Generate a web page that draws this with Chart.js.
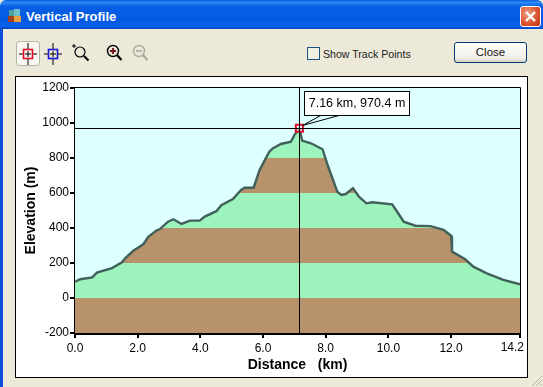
<!DOCTYPE html>
<html>
<head>
<meta charset="utf-8">
<title>Vertical Profile</title>
<script src="https://cdn.jsdelivr.net/npm/chart.js@4"></script>
<style>
    html, body { margin:0; padding:0; background:#ECE9D8; }
    #win { position:relative; width:543px; height:387px; overflow:hidden; background:#ECE9D8; font-family:"Liberation Sans", Arial, sans-serif; }
    #titlebar { position:absolute; left:0; top:0; width:543px; height:29px; border-radius:6px 6px 0 0;
        background:linear-gradient(to bottom, #0A5BDC 0%, #2E8BF5 8%, #0860E6 22%, #0458E0 70%, #0A62EC 90%, #0043C4 100%); }
    #leftedge { position:absolute; left:0; top:29px; width:3px; height:358px; background:#0A50DC; }
    #titletext { position:absolute; left:26px; top:9px; color:#fff; font-size:13px; font-weight:bold; font-family:"Liberation Sans", Arial, sans-serif; }
    #appicon { position:absolute; left:8px; top:9px; }
    #closex { position:absolute; left:520px; top:6px; width:21px; height:21px; box-sizing:border-box; border:1px solid #fff; border-radius:3px;
        background:radial-gradient(circle at 35% 35%, #F0A080, #D8502C 60%, #B83010); }
    #toolsel { position:absolute; left:16px; top:41px; width:24px; height:25px; box-sizing:border-box; background:#F6F5EE; border:1px solid #B8B6A8; border-radius:3px; }
    .tool { position:absolute; }
    #check { position:absolute; left:307px; top:47px; width:13px; height:13px; box-sizing:border-box; border:1px solid #1C5180; background:#F1EFE2; }
    #checklabel { position:absolute; left:323px; top:48px; font-size:10.6px; color:#222; }
    #closebtn { position:absolute; left:454px; top:42px; width:73px; height:21px; box-sizing:border-box; border:1px solid #003C74; border-radius:3px;
        background:linear-gradient(to bottom, #FFFFFF, #F0EFE6 80%, #D6D0C5); font-size:11.5px; line-height:19px; text-align:center; color:#111; }
    #panel { position:absolute; left:15px; top:76px; width:513px; height:302px; box-sizing:border-box; border:1px solid #000; background:#fff; }
    #chartBox { position:absolute; left:0; top:0; width:511px; height:300px; }
    #grip { position:absolute; left:530px; top:374px; }
</style>
</head>
<body>
<div id="win">
    <div id="titlebar"></div>
    <div id="leftedge"></div>
    <svg id="appicon" width="13" height="14"><rect x="1" y="1" width="5" height="6" fill="#4FA0A0"/><rect x="6" y="0" width="6" height="7" fill="#6FC0C8"/><rect x="0" y="7" width="6" height="6" fill="#A04020"/><rect x="6" y="7" width="7" height="6" fill="#E8A040"/></svg>
    <div id="titletext">Vertical Profile</div>
    <div id="closex"><svg width="19" height="19"><path d="M5 5 L14 14 M14 5 L5 14" stroke="#fff" stroke-width="2.4"/></svg></div>

    <div id="toolsel"></div>
    <svg class="tool" style="left:16px;top:41px" width="150" height="26">
        <g fill="none" stroke="#000" stroke-width="1">
            <path d="M12 2V8 M12 18V24 M3 13H8 M17 13H21"/><path d="M37 2V8 M37 18V24 M28 13H33 M42 13H46"/>
            <path d="M12 10V16 M9 13H15 M37 10V16 M34 13H40"/>
        </g>
        <rect x="7.5" y="8.5" width="9" height="9" fill="none" stroke="#E0102C" stroke-width="1.6"/>
        <rect x="32.5" y="8.5" width="9" height="9" fill="none" stroke="#1818D0" stroke-width="1.6"/>
        <g fill="none" stroke="#000">
            <path d="M56 5H60 M58 3V7"/>
            <circle cx="64" cy="11" r="5" stroke-width="1.2"/><path d="M68 15L72.5 19.5" stroke-width="2.2"/>
            <circle cx="97" cy="10" r="5.5" stroke-width="1.4"/><path d="M101 14L105.5 19" stroke-width="2.2"/>
            <path d="M94 10H100 M97 7V13" stroke="#701020" stroke-width="1.8"/>
        </g>
        <g fill="none" stroke="#A8A89C">
            <circle cx="123" cy="10" r="5.5" stroke-width="1.4"/><path d="M127 14L131.5 19" stroke-width="2.2"/>
            <path d="M120 10H126" stroke-width="1.6"/>
        </g>
    </svg>
    <div id="check"></div>
    <div id="checklabel">Show Track Points</div>
    <div id="closebtn">Close</div>

    <div id="panel"><div id="chartBox"><canvas id="chart-profile"></canvas></div></div>
    <svg id="grip" width="13" height="13"><path d="M12 2L2 12 M12 6L6 12 M12 10L10 12" stroke="#B8B4A0" stroke-width="1"/></svg>
</div>

<script>
    // Profile
    const distanceKm = [0, 0.17, 0.55, 0.7, 1.18, 1.5, 1.6, 1.86, 2.18, 2.34, 2.6, 2.71, 2.97, 3.14, 3.4, 3.67, 3.98, 4.14, 4.51, 4.67, 5.04, 5.3, 5.41, 5.7, 5.89, 6.2, 6.31, 6.57, 6.89, 7.0, 7.16, 7.25, 7.53, 7.9, 8.06, 8.37, 8.5, 8.64, 8.87, 9.06, 9.3, 9.49, 10.12, 10.28, 10.49, 10.86, 11.34, 11.76, 12.0, 12.03, 12.45, 12.71, 13.14, 13.67, 14.2];
    const elevationM = [93, 107, 118, 145, 171, 204, 227, 270, 307, 350, 385, 394, 436, 450, 423, 442, 442, 465, 496, 530, 566, 617, 630, 630, 731, 836, 855, 880, 893, 931, 970.4, 899, 884, 850, 760, 607, 589, 594, 627, 579, 541, 547, 535, 493, 436, 413, 411, 389, 356, 265, 221, 179, 141, 103, 78];

    const cursorDistance = 7.16;
    const cursorElevation = 970.4;
    const cursorLabel = '7.16 km, 970.4 m';

    const yTickValues = [-200, 0, 200, 400, 600, 800, 1000, 1200];
    const xTickValues = [0, 2, 4, 6, 8, 10, 12, 14.2];

    const bandEdges = [-200, 0, 200, 400, 600, 800, 1000];
    const bandColors = ['#B8926A', '#9CF3BC', '#B8926A', '#9CF3BC', '#B8926A', '#9CF3BC'];

    // hard stop gradient so the bands follow the profile outline exactly
    function bandGradient(context) {
        const { chart } = context;
        if (!chart.chartArea) return bandColors[1];
        const y = chart.scales.y;
        const top = y.getPixelForValue(bandEdges[bandEdges.length - 1]);
        const bottom = y.getPixelForValue(bandEdges[0]);
        const grad = chart.ctx.createLinearGradient(0, bottom, 0, top);
        bandColors.forEach((color, i) => {
            grad.addColorStop((bandEdges[i] - bandEdges[0]) / (bandEdges[bandEdges.length - 1] - bandEdges[0]), color);
            grad.addColorStop((bandEdges[i + 1] - bandEdges[0]) / (bandEdges[bandEdges.length - 1] - bandEdges[0]), color);
        });
        return grad;
    }

    // plot background and thin frame
    const plotFrame = {
        id: 'plotFrame',
        beforeDatasetsDraw(chart) {
            const { ctx, chartArea: a } = chart;
            ctx.save();
            ctx.fillStyle = '#DDFFFF';
            ctx.fillRect(a.left, a.top, a.width, a.height);
            ctx.restore();
        },
        afterDraw(chart) {
            const { ctx, chartArea: a } = chart;
            ctx.save();
            ctx.strokeStyle = '#000';
            ctx.lineWidth = 1;
            ctx.beginPath();
            ctx.moveTo(a.left, a.top - 0.5);
            ctx.lineTo(a.right + 0.5, a.top - 0.5);
            ctx.lineTo(a.right + 0.5, a.bottom);
            ctx.stroke();
            ctx.restore();
        }
    };

    // crosshair, callout and the shifted last x label
    const cursorCallout = {
        id: 'cursorCallout',
        afterDatasetsDraw(chart) {
            const { ctx, chartArea: a, scales } = chart;
            const px = Math.round(scales.x.getPixelForValue(cursorDistance)) + 0.5;
            const py = Math.round(scales.y.getPixelForValue(cursorElevation)) + 0.5;
            ctx.save();
            ctx.strokeStyle = '#000';
            ctx.lineWidth = 1;
            ctx.beginPath();
            ctx.moveTo(a.left, py); ctx.lineTo(a.right, py);
            ctx.moveTo(px, a.top); ctx.lineTo(px, a.bottom);
            ctx.moveTo(px + 3, py - 3); ctx.lineTo(px + 23, py - 14);
            ctx.moveTo(px + 3, py - 3); ctx.lineTo(px + 43, py - 14);
            ctx.stroke();

            ctx.fillStyle = '#fff';
            ctx.fillRect(px + 5, py - 37, 105, 24);
            ctx.strokeRect(px + 5, py - 37, 105, 24);
            ctx.fillStyle = '#000';
            ctx.font = '12.5px "Liberation Sans", Arial, sans-serif';
            ctx.textAlign = 'center';
            ctx.textBaseline = 'middle';
            ctx.fillText(cursorLabel, px + 57.5, py - 24.5);
            ctx.restore();
        },
        afterDraw(chart) {
            const { ctx, scales } = chart;
            const last = xTickValues[xTickValues.length - 1];
            ctx.save();
            ctx.fillStyle = '#000';
            ctx.font = '12px "Liberation Sans", Arial, sans-serif';
            ctx.textAlign = 'right';
            ctx.textBaseline = 'top';
            ctx.fillText(last.toFixed(1), scales.x.getPixelForValue(last) + 4, scales.x.top + 9);
            ctx.restore();
        }
    };

    new Chart(document.getElementById('chart-profile').getContext('2d'), {
        type: 'line',
        data: {
            datasets: [{
                label: 'Marker',
                data: [{ x: cursorDistance, y: cursorElevation }],
                showLine: false,
                pointStyle: 'rect',
                pointRadius: 5,
                pointBorderColor: '#E0102C',
                pointBorderWidth: 2,
                pointBackgroundColor: 'rgba(255,255,255,0.6)',
                order: 0
            }, {
                label: 'Elevation',
                data: distanceKm.map((d, i) => ({ x: d, y: elevationM[i] })),
                borderColor: '#41615A',
                borderWidth: 2.4,
                pointRadius: 0,
                tension: 0,
                fill: 'start',
                backgroundColor: bandGradient,
                order: 1
            }]
        },
        options: {
            responsive: true,
            maintainAspectRatio: false,
            animation: false,
            layout: { padding: { top: 11, right: 5, bottom: 3, left: 0 } },
            plugins: {
                legend: { display: false },
                tooltip: { enabled: false }
            },
            scales: {
                x: {
                    type: 'linear',
                    min: 0,
                    max: 14.2,
                    afterBuildTicks: axis => { axis.ticks = xTickValues.map(v => ({ value: v })); },
                    // last label is drawn by the plugin, so it should not reserve room
                    afterFit: axis => { axis.height = 41; axis.paddingRight = 0; },
                    grid: { drawOnChartArea: false, color: '#000', lineWidth: 2, tickLength: 5 },
                    border: { color: '#000', width: 3 },
                    ticks: {
                        color: '#000',
                        font: { size: 12, family: '"Liberation Sans", Arial, sans-serif' },
                        padding: 3,
                        maxRotation: 0,
                        autoSkip: false,
                        callback: v => v === xTickValues[xTickValues.length - 1] ? '' : v.toFixed(1)
                    },
                    title: {
                        display: true,
                        text: 'Distance   (km)',
                        color: '#000',
                        font: { size: 14, weight: 'bold', family: '"Liberation Sans", Arial, sans-serif' },
                        padding: 0
                    }
                },
                y: {
                    min: -200,
                    max: 1200,
                    afterBuildTicks: axis => { axis.ticks = yTickValues.map(v => ({ value: v })); },
                    afterFit: axis => { axis.width = 59; },
                    grid: { drawOnChartArea: false, color: '#000', lineWidth: 2, tickLength: 5 },
                    border: { color: '#000', width: 3 },
                    ticks: {
                        color: '#000',
                        font: { size: 12, family: '"Liberation Sans", Arial, sans-serif' },
                        padding: 1,
                        autoSkip: false,
                        callback: v => String(v)
                    },
                    title: {
                        display: true,
                        text: 'Elevation (m)',
                        color: '#000',
                        font: { size: 14, weight: 'bold', family: '"Liberation Sans", Arial, sans-serif' },
                        padding: { top: 7, bottom: 0 }
                    }
                }
            }
        },
        plugins: [plotFrame, cursorCallout]
    });
</script>
</body>
</html>
